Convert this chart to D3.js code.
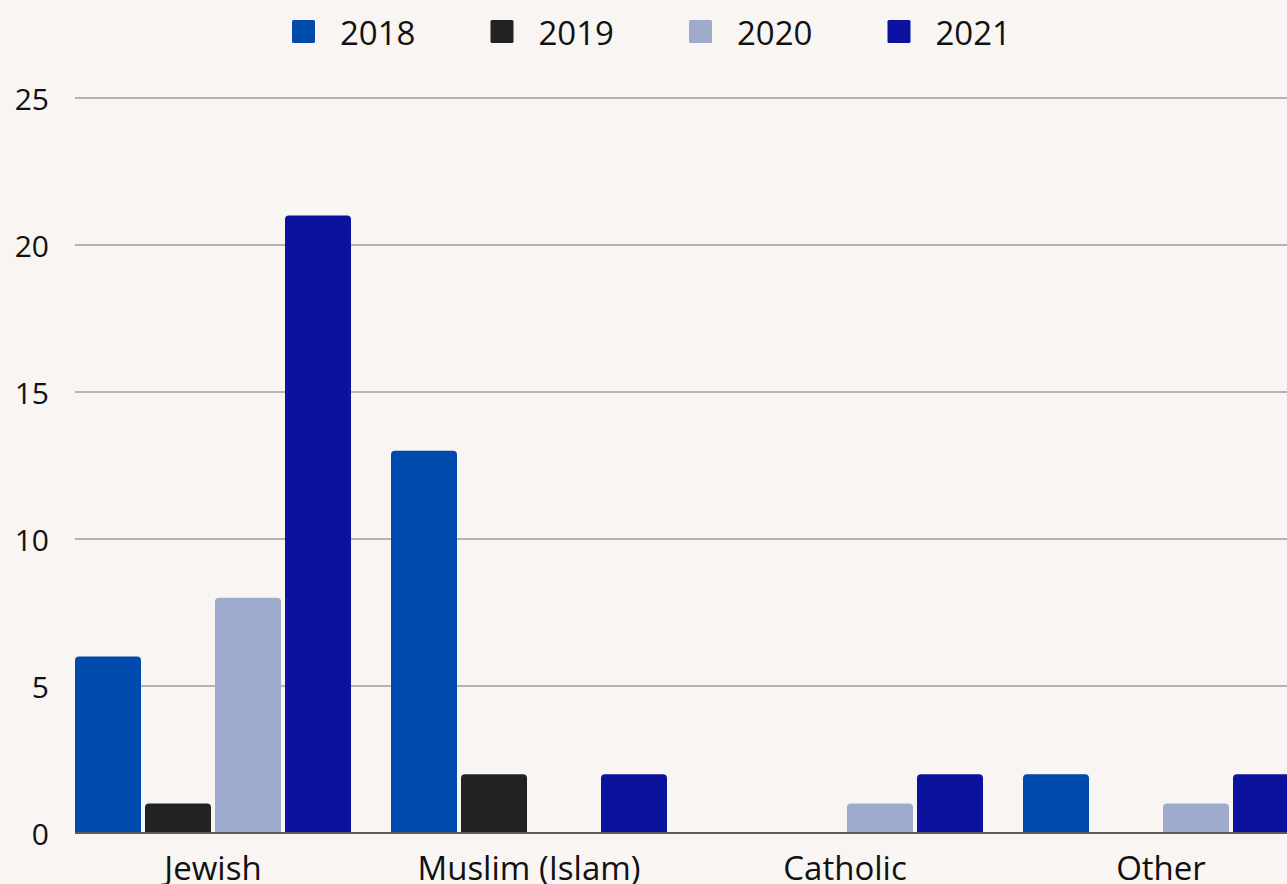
<!DOCTYPE html>
<html>
<head>
<meta charset="utf-8">
<script src="https://cdn.jsdelivr.net/npm/d3@7"></script>
<style>
  html, body { margin: 0; padding: 0; background: #f8f5f2; }
  svg { display: block; }
  text { font-family: "Open Sans", "Noto Sans", sans-serif; fill: #111; }
</style>
</head>
<body>
<svg id="chart" width="1287" height="884"></svg>
<script>
// Religion categories and yearly counts
const categories = ["Jewish", "Muslim (Islam)", "Catholic", "Other"];
const years = ["2018", "2019", "2020", "2021"];
const values2018 = [6, 13, 0, 2];
const values2019 = [1, 2, 0, 0];
const values2020 = [8, 0, 1, 1];
const values2021 = [21, 2, 2, 2];
const yTicks = [0, 5, 10, 15, 20, 25];
const colors = ["#004aad", "#222222", "#9eabcd", "#0b139e"];

const seriesByYear = [values2018, values2019, values2020, values2021];
const rows = categories.map((c, i) => ({
  category: c,
  values: years.map((y, j) => ({ year: y, value: seriesByYear[j][i], color: colors[j] }))
}));

const svg = d3.select("#chart");
const W = 1287, H = 884;
const plotLeft = 75, baseY = 833, topY = 98;

const y = d3.scaleLinear().domain([0, 25]).range([baseY, topY]);

// Group bands run past the right edge of the canvas
const groupStep = 316, groupGap = 40;
const x0 = d3.scaleBand()
  .domain(categories)
  .range([plotLeft, plotLeft + groupStep * categories.length - groupGap])
  .paddingInner(groupGap / groupStep)
  .paddingOuter(0);

const x1 = d3.scaleBand()
  .domain(years)
  .range([0, x0.bandwidth()])
  .paddingInner(4 / 70)
  .paddingOuter(0);

// Gridlines
svg.append("g")
  .selectAll("line")
  .data(yTicks.filter(t => t > 0))
  .join("line")
  .attr("x1", plotLeft).attr("x2", W)
  .attr("y1", d => y(d)).attr("y2", d => y(d))
  .attr("stroke", "#b8b4b1").attr("stroke-width", 2);

// Y tick labels
svg.append("g")
  .selectAll("text")
  .data(yTicks)
  .join("text")
  .attr("x", 49).attr("y", d => y(d))
  .attr("text-anchor", "end")
  .attr("dominant-baseline", "central")
  .style("font-size", "30px")
  .text(d => d);

// Bars with rounded top corners
function topRounded(x, yTop, w, h, r) {
  if (h <= 0) return "";
  r = Math.min(r, h, w / 2);
  return `M${x},${yTop + h}V${yTop + r}Q${x},${yTop} ${x + r},${yTop}H${x + w - r}Q${x + w},${yTop} ${x + w},${yTop + r}V${yTop + h}Z`;
}

const groups = svg.append("g")
  .selectAll("g")
  .data(rows)
  .join("g")
  .attr("transform", d => `translate(${x0(d.category)},0)`);

groups.selectAll("path")
  .data(d => d.values.filter(v => v.value > 0))
  .join("path")
  .attr("fill", d => d.color)
  .attr("d", d => topRounded(x1(d.year), y(d.value), x1.bandwidth(), baseY - y(d.value), 4));

// Baseline
svg.append("line")
  .attr("x1", plotLeft).attr("x2", W)
  .attr("y1", baseY).attr("y2", baseY)
  .attr("stroke", "#5e5a58").attr("stroke-width", 2);

// Category labels
svg.append("g")
  .selectAll("text")
  .data(categories)
  .join("text")
  .attr("x", d => x0(d) + x0.bandwidth() / 2)
  .attr("y", 880)
  .attr("text-anchor", "middle")
  .style("font-size", "33px")
  .text(d => d);

// Legend
const legend = svg.append("g")
  .selectAll("g")
  .data(years)
  .join("g")
  .attr("transform", (d, i) => `translate(${292 + i * 198.5},20)`);

legend.append("rect")
  .attr("width", 23).attr("height", 23).attr("rx", 1.5)
  .attr("fill", (d, i) => colors[i]);

legend.append("text")
  .attr("x", 48).attr("y", 12)
  .attr("dominant-baseline", "central")
  .style("font-size", "33px")
  .text(d => d);
</script>
</body>
</html>
